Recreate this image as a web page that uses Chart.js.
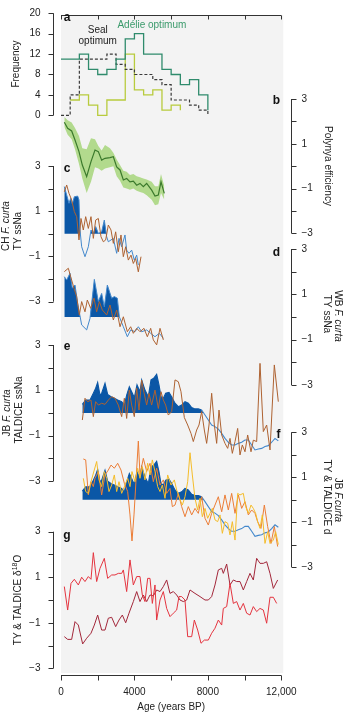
<!DOCTYPE html>
<html><head><meta charset="utf-8">
<script src="https://cdn.jsdelivr.net/npm/chart.js@4.4.1/dist/chart.umd.min.js"></script>
<style>html,body{margin:0;padding:0;background:#fff}#wrap{width:343px;height:714px;position:relative}</style>
</head><body><div id="wrap"><canvas id="c"></canvas></div>
<script>
// ---------- DATA ----------
// (a) frequency histograms, 500-yr bins (bin starts + closing edge)
const ageBins = [0,500,1000,1500,2000,2500,3000,3500,4000,4500,5000,5500,6000,6500,7000,7500,8000];
const adelieFreq = [11,11,12,9,8,9,11,15,16,12,12,9,8,6,7,4,1];
const sealFreq   = [0,4,11,11,11,12,10,9,8,8,7,6,3,3,2,1,0];
const otherBins  = [500,1000,1500,2000,2500,3000,3500,4000,4500,5000,5500,6000,6500];
const otherFreq  = [3,4,2,0,3,3,12,5,4,5,1,2,1];
const freqTicks  = [0,4,8,12,16,20];

// (b) polynya efficiency with uncertainty band
const polyAge = [181,363,581,763,980,1161,1398,1634,1852,2034,2215,2397,2669,2851,3033,3214,3396,3578,3758,3940,4123,4303,4485,4667,4940,5120,5300,5447,5627];
const polyEff = [1.96,1.69,1.57,1.17,0.65,0.05,-0.47,0.2,0.72,0.65,0.27,0.35,0.38,0.42,-0.03,-0.17,-0.62,-0.55,-0.7,-0.67,-0.85,-0.77,-0.92,-0.77,-1.07,-1.34,-1.29,-0.7,-1.22];
const polyHi  = [2.2,2.05,1.95,1.7,1.35,0.8,0.75,1.25,1.2,0.9,0.7,0.95,0.8,0.6,0.3,0.05,-0.2,-0.25,-0.4,-0.35,-0.45,-0.5,-0.55,-0.6,-0.7,-0.9,-0.9,-0.35,-0.9];
const polyLo  = [1.75,1.4,1.2,0.75,0.1,-0.55,-1.2,-0.7,-0.05,-0.1,-0.2,-0.1,-0.05,0.0,-0.45,-0.65,-0.95,-1.0,-1.05,-1.0,-1.1,-1.15,-1.2,-1.3,-1.5,-1.75,-1.7,-1.2,-1.5];

// (c) CH F. curta / TY ssNa
const chAge    = [181,309,436,527,617,726,908,980,1035,1126,1307,1489,1634,1761,1888,2034,2215,2360,2488,2578,2723,2851,3032,3159,3305,3486,3577,3704,3849,3994,4122,4212];
const chFcurta = [2.09,1.72,1.35,1.57,1.32,1.64,1.67,1.5,0.17,-0.57,-1.01,-0.57,0.17,0.02,0.32,0.02,0.09,0.61,-0.13,-0.35,-0.27,-0.2,-0.86,-0.2,-0.57,-0.05,-0.72,-0.86,-0.72,-1.16,-0.94,-1.38];
const tyAgeC   = [181,309,436,581,726,853,980,1089,1216,1344,1489,1634,1761,1888,2034,2179,2306,2433,2578,2723,2851,2978,3123,3268,3395,3523,3668,3813,3940,4067,4212,4358];
const tySsNaC  = [1.86,2.16,1.79,1.5,0.98,0.76,-0.27,0.68,0.17,0.76,0.24,0.76,-0.2,0.61,0.68,-0.13,-0.35,-0.27,0.39,0.17,-0.42,0.09,-0.79,-0.05,-1.01,-0.57,-1.16,-0.94,-1.31,-1.09,-1.68,-1.01];

// (d) WB F. curta / TY ssNa
const wbAge    = [181,309,490,617,763,908,1126,1398,1580,1816,2034,2215,2360,2524,2760,2905,3069,3178,3396,3614,3795,4031,4213,4394,4667,4885,5120,5356,5574];
const wbFcurta = [1.78,1.63,1.93,1.27,1.41,0.6,-0.35,-0.57,-0.06,1.66,0.68,1.04,0.45,1.41,0.83,0.9,0.83,0.01,-0.43,-0.87,-0.57,-0.65,-0.43,-0.65,-0.57,-0.72,-0.87,-0.72,-0.94];
const tyAgeD   = [181,399,526,708,853,999,1126,1307,1434,1616,1798,1943,2088,2251,2488,2669,2851,3033,3214,3396,3614,3795,3940,4122,4303,4521,4703,4885,5029,5211,5393,5574];
const tySsNaD  = [2.0,2.15,1.78,1.27,0.9,0.09,0.68,0.23,0.75,0.38,0.83,0.23,0.68,0.31,0.09,0.53,-0.13,0.31,-0.43,0.01,-0.65,-0.43,-0.72,-0.5,-0.65,-0.5,-0.87,-0.5,-1.01,-1.23,-0.5,-1.01];

// (e,f) JB F. curta
const jbAge    = [1162,1344,1580,1761,1888,1997,2124,2215,2397,2542,2724,2905,3087,3305,3450,3577,3722,3849,3994,4140,4303,4394,4575,4757,4902,5048,5211,5338,5447,5574,5701,5883,6028,6210,6391,6573,6754,6936,7118,7299,7481,7662,7844,8025,8207,8388,8570,8752,8933,9115,9296,9478,9659,9841,10022,10204,10386,10567,10749,10930,11112,11293,11475,11657,11838];
const jbFcurta = [0.38,0.57,0.57,0.87,1.09,1.35,0.79,0.87,1.31,0.82,0.72,0.65,0.57,0.50,0.35,0.79,1.16,0.94,0.68,1.24,0.94,1.46,1.01,0.72,1.46,1.53,1.71,1.24,0.72,0.65,0.87,0.91,0.72,0.43,0.28,0.35,0.50,0.43,0.24,0.18,0.18,0.13,-0.09,-0.31,-0.53,-0.6,-0.71,-0.9,-1.12,-1.29,-1.41,-1.41,-1.34,-1.29,-1.19,-1.19,-1.41,-1.63,-1.59,-1.56,-1.48,-1.44,-1.29,-1.12,-1.23];
// (e) TALDICE ssNa
const taldAgeE = [1162,1307,1453,1634,1761,1888,2034,2215,2397,2578,2760,2941,3123,3305,3450,3577,3722,3849,3994,4122,4249,4394,4521,4666,4793,4938,5120,5302,5447,5574,5701,5846,6028,6210,6391,6536,6718,6900,7081,7208,7390,7517,7662,7807,7934,8062,8207,8352,8479,8606,8752,8933,9079,9206,9333,9478,9623,9750,9877,10022,10168,10350,10476,10658,10840,11021,11203,11385,11620,11838];
const taldSsNa = [-0.31,0.65,0.50,0.57,-0.16,0.50,0.35,0.43,0.38,0.57,0.72,0.65,0.35,-0.16,0.65,-0.24,1.01,0.35,-0.16,1.09,0.13,1.45,0.9,0.35,0.87,0.35,1.01,0.20,0.94,0.57,0.35,-0.09,0.06,1.46,1.38,0.94,-0.20,-0.53,-0.90,-1.26,-0.75,-0.53,0.06,-0.75,-1.34,-0.53,0.87,-0.53,-1.34,0.13,-0.97,-1.34,-1.56,-1.12,-1.78,-1.26,-0.68,-1.85,-1.41,-1.71,-0.97,-1.71,-1.2,-1.26,2.19,-0.82,-0.53,-1.63,2.12,0.50];
// (f) TY d and TALDICE d
const tyDAge = [1216,1344,1489,1634,1761,1852,2034,2215,2397,2578,2724,2905,3087,3268,3450,3632,3758,3867,3976,4213,4303,4485,4666,4848,5029,5211,5393,5574,5756,5937,6065,6210,6391,6573,6754,6936,7118,7299,7481,7662,7844,8025,8207,8388,8570,8752,8933,9115,9296,9478,9659,9841,10022,10204,10386,10567,10712,10894,11076,11257,11439,11620,11802];
const tyD    = [1.81,1.77,0.21,0.80,0.58,0.95,1.25,0.21,1.10,1.32,1.54,1.40,1.62,1.32,0.73,0.36,-0.68,-1.84,-0.68,2.61,1.10,1.84,1.25,1.62,0.80,1.40,0.65,0.88,0.28,0.50,-0.31,-0.24,0.28,-0.31,-0.76,-0.31,-0.68,-0.39,-0.61,0.13,-0.83,-1.13,-0.61,-0.24,0.13,-0.54,0.21,-0.46,0.28,-0.61,0.21,-0.39,-0.09,-0.68,-0.46,-0.61,-0.98,-1.28,-0.24,-1.2,-1.95,-1.2,-2.09];
const taldDAge = [1216,1344,1489,1634,1943,2070,2215,2360,2488,2615,2760,2905,3033,3160,3305,3487,3632,3758,3867,4031,4176,4303,4430,4575,4720,4848,4975,5120,5266,5393,5520,5665,5810,5992,6173,6300,6482,6609,6754,6900,7027,7154,7299,7444,7572,7699,7844,7989,8116,8243,8388,8533,8661,8788,8933,9079,9206,9333,9478,9623,9750,9932,10059,10204,10350,10476,10603,10712,10840,10967,11112,11257,11385,11566,11693,11838];
const taldD    = [0.95,0.36,0.28,0.80,1.70,0.88,0.58,1.25,0.95,0.36,0.65,1.10,0.36,0.80,0.28,0.65,0.95,0.58,1.25,0.80,1.40,0.95,1.47,0.88,1.62,1.10,1.77,1.25,0.58,0.36,0.65,0.06,1.10,0.65,0.88,0.43,0.00,-0.24,0.13,0.80,2.09,1.10,0.06,-0.46,0.06,-0.76,-0.39,-0.83,-0.61,-0.39,-0.90,-0.98,-0.68,-1.50,-0.98,-1.05,-1.57,-0.98,-1.80,0.28,0.21,0.28,-0.31,-0.61,-0.24,-0.39,-0.61,-0.98,-1.28,-0.68,-1.95,-1.43,-1.95,-1.80,-1.43,-2.00];

// (g) δ18O records
const o18AgeA = [181,363,545,726,944,1126,1307,1489,1634,1761,1943,2124,2360,2542,2760,2941,3123,3305,3396,3577,3758,3940,4122,4303,4430,4575,4721,4848,4975,5120,5211,5393,5574,5756,5937,6119,6300,6427,6573,6754,6900,7118,7263,7444,7626,7808,8025,8207,8388,8570,8752,8842,9024,9206,9387,9569,9750,9932,10113,10295,10476,10658,10839,11021,11203,11384,11566,11748];
const o18A    = [0.59,-0.44,0.73,0.91,0.66,1.0,0.81,1.03,0.91,2.08,0.81,1.39,1.83,0.95,1.10,1.10,1.17,1.17,1.32,0.37,1.76,0.66,1.03,1.03,0.22,-0.07,0.95,0.95,-0.15,0.66,-0.88,0.0,0.37,-0.37,-0.73,-0.58,-0.44,0.15,0.15,0.0,-1.61,-1.61,-0.88,-1.32,-1.9,-1.76,-1.76,-1.46,-1.24,-0.88,-1.1,-0.37,-0.29,0.73,-0.15,-0.07,-0.44,-0.15,-0.58,-0.66,-0.29,-0.51,-0.37,-0.44,-1.02,0.12,0.12,-0.15];
const o18AgeB = [181,363,581,763,944,1180,1398,1634,1816,1997,2215,2397,2578,2760,2978,3159,3341,3523,3704,3940,4122,4303,4485,4667,4848,5029,5211,5393,5574,5756,5937,6119,6300,6482,6663,6845,7027,7299,7572,7844,8025,8207,8388,8570,8752,8842,9024,9206,9387,9569,9750,9932,10113,10295,10476,10658,10839,11021,11203,11384,11566,11802];
const o18B    = [-1.61,-1.73,-1.73,-0.95,-1.1,-1.93,-1.68,-1.46,-1.1,-0.66,-1.32,-1.32,-0.8,-0.76,-1.17,-0.88,-0.66,-1.0,-0.58,-0.07,0.37,-0.07,0.22,-0.07,0.22,0.18,0.44,0.37,0.59,0.88,0.29,0.37,0.22,0.0,-0.07,0.0,0.44,0.29,0.15,0.0,0.0,0.15,0.66,1.32,1.39,1.17,1.58,0.66,0.88,0.81,0.81,0.44,0.81,1.17,0.88,1.83,1.61,1.61,1.68,1.17,0.51,0.88];

// tick labels
const anomTickMarks = [-3,-2,-1,0,1,2,3];
const anomTickLabels = [3,1,-1,-3];
const ageTickMarks = [0,2000,4000,6000,8000,10000,12000];
const ageTickLabels = {0:'0',4000:'4000',8000:'8000',12000:'12,000'};

// ---------- LAYOUT (pixel placement of the stacked panels) ----------
const AREA = {left:61, right:281.3, top:15, bottom:675};
const panelPos = {
  ya:{vTop:20,pTop:13.3,vBot:0,pBot:115.3},
  yb:{vTop:3,pTop:99,vBot:-3,pBot:233.3},
  yc:{vTop:3,pTop:166,vBot:-3,pBot:301.7},
  yd:{vTop:3,pTop:249,vBot:-3,pBot:385},
  ye:{vTop:3,pTop:345,vBot:-3,pBot:481},
  yf:{vTop:3,pTop:432.3,vBot:-3,pBot:567},
  yg:{vTop:3,pTop:531.7,vBot:-3,pBot:668.3}
};
function bounds(p){const u=(p.vTop-p.vBot)/(p.pBot-p.pTop);return {min:p.vBot-(AREA.bottom-p.pBot)*u,max:p.vTop+(p.pTop-AREA.top)*u};}
const yScales = {};
Object.keys(panelPos).forEach(id=>{const b=bounds(panelPos[id]);yScales[id]={type:'linear',display:false,min:b.min,max:b.max};});

const FONT = "'Liberation Sans', Arial, Helvetica, sans-serif";
const C = {teal:'#2f8b6c',seal:'#3a3a3a',lime:'#b8cb3d',band:'#b2da8d',poly:'#3b7a2c',fill:'#0b57a6',blue:'#4388cc',brown:'#ae6231',orange:'#ec7d36',yellow:'#f5bd2a',red:'#e5343f',dred:'#a3273a'};
const pts=(xs,ys)=>xs.map((x,i)=>({x,y:ys[i]}));
// positive part of a record (for the filled area), split at its zero crossings
function positivePart(xs, ys){
  const out=[];
  for(let i=0;i<xs.length;i++){
    if(i>0 && (ys[i-1]>0)!==(ys[i]>0)){
      const t=ys[i-1]/(ys[i-1]-ys[i]);
      out.push({x:xs[i-1]+t*(xs[i]-xs[i-1]),y:0});
    }
    out.push({x:xs[i],y:Math.max(0,ys[i])});
  }
  return out;
}
const posSeg = col => ({borderColor: c => (c.p0.parsed.y>0 && c.p1.parsed.y>0) ? C.fill : col});
const areaDs = (xs,ys,axis) => ({data:positivePart(xs,ys),yAxisID:axis,borderWidth:0,borderColor:'rgba(0,0,0,0)',backgroundColor:C.fill,fill:'origin',order:6});

const datasets = [
  {data:pts(ageBins,adelieFreq),yAxisID:'ya',borderColor:C.teal,borderWidth:1.3,stepped:'before',order:1},
  {data:pts(ageBins,sealFreq),yAxisID:'ya',borderColor:C.seal,borderWidth:1.2,borderDash:[3,2],stepped:'before',order:1},
  {data:pts(otherBins,otherFreq),yAxisID:'ya',borderColor:C.lime,borderWidth:1.3,stepped:'before',order:2},
  {data:pts(polyAge,polyHi),yAxisID:'yb',borderWidth:0,borderColor:'rgba(0,0,0,0)',backgroundColor:C.band,fill:'+1',order:9},
  {data:pts(polyAge,polyLo),yAxisID:'yb',borderWidth:0,borderColor:'rgba(0,0,0,0)',fill:false,order:9},
  {data:pts(polyAge,polyEff),yAxisID:'yb',borderColor:C.poly,borderWidth:1.2,order:1},
  areaDs(chAge,chFcurta,'yc'),
  {data:pts(chAge,chFcurta),yAxisID:'yc',borderColor:C.blue,borderWidth:1,order:4},
  {data:pts(tyAgeC,tySsNaC),yAxisID:'yc',borderColor:C.brown,borderWidth:1,order:3},
  areaDs(wbAge,wbFcurta,'yd'),
  {data:pts(wbAge,wbFcurta),yAxisID:'yd',borderColor:C.blue,borderWidth:1,order:4},
  {data:pts(tyAgeD,tySsNaD),yAxisID:'yd',borderColor:C.brown,borderWidth:1,order:3},
  areaDs(jbAge,jbFcurta,'ye'),
  {data:pts(jbAge,jbFcurta),yAxisID:'ye',borderColor:C.blue,borderWidth:1.1,segment:posSeg(C.blue),order:4},
  {data:pts(taldAgeE,taldSsNa),yAxisID:'ye',borderColor:C.brown,borderWidth:1,order:3},
  areaDs(jbAge,jbFcurta,'yf'),
  {data:pts(jbAge,jbFcurta),yAxisID:'yf',borderColor:C.blue,borderWidth:1.1,segment:posSeg(C.blue),order:4},
  {data:pts(tyDAge,tyD),yAxisID:'yf',borderColor:C.orange,borderWidth:1,order:3},
  {data:pts(taldDAge,taldD),yAxisID:'yf',borderColor:C.yellow,borderWidth:1,order:2},
  {data:pts(o18AgeB,o18B),yAxisID:'yg',borderColor:C.dred,borderWidth:1,order:3},
  {data:pts(o18AgeA,o18A),yAxisID:'yg',borderColor:C.red,borderWidth:1,order:2}
];

const fmt = v => v<0 ? '\u2212'+Math.abs(v) : String(v);

function richText(ctx, parts, cx, cy, angle, size){
  ctx.save();
  ctx.translate(cx, cy); ctx.rotate(angle);
  ctx.textBaseline='middle'; ctx.textAlign='left';
  const fontOf = p => (p.i?'italic ':'') + (p.sup? Math.round(size*0.7): size) + 'px ' + FONT;
  let w=0; parts.forEach(p=>{ctx.font=fontOf(p); w+=ctx.measureText(p.t).width;});
  let x=-w/2;
  parts.forEach(p=>{ctx.font=fontOf(p); ctx.fillText(p.t, x, p.sup?-3:0); x+=ctx.measureText(p.t).width;});
  ctx.restore();
}

const panelPlugin = {
  id:'panelDecor',
  beforeDraw(chart){
    const {ctx, chartArea:a} = chart;
    ctx.save(); ctx.fillStyle='#f3f3f3';
    ctx.fillRect(a.left, a.top, a.right-a.left+2, a.bottom-a.top-2);
    ctx.restore();
  },
  afterDraw(chart){
    const {ctx, chartArea:a, scales:s} = chart;
    ctx.save();
    ctx.strokeStyle='#333'; ctx.fillStyle='#222'; ctx.lineWidth=1;
    ctx.font='10px '+FONT;
    const yAxis = (id, x, side, marks, labels) => {
      const sc = s[id];
      const yTop = sc.getPixelForValue(Math.max(...marks)), yBot = sc.getPixelForValue(Math.min(...marks));
      ctx.beginPath(); ctx.moveTo(x, yTop); ctx.lineTo(x, yBot);
      marks.forEach(v=>{const y=Math.round(sc.getPixelForValue(v))+0.5; ctx.moveTo(x,y); ctx.lineTo(x+side*5,y);});
      ctx.stroke();
      ctx.textBaseline='middle'; ctx.textAlign= side<0?'right':'left';
      labels.forEach(v=>{ctx.fillText(fmt(v), x+side*(side<0?13:10), sc.getPixelForValue(v));});
    };
    yAxis('ya',53.5,-1,freqTicks,freqTicks);
    yAxis('yc',53.5,-1,anomTickMarks,anomTickLabels);
    yAxis('ye',53.5,-1,anomTickMarks,anomTickLabels);
    yAxis('yg',53.5,-1,anomTickMarks,anomTickLabels);
    yAxis('yb',291.5,1,anomTickMarks,anomTickLabels);
    yAxis('yd',291.5,1,anomTickMarks,anomTickLabels);
    yAxis('yf',291.5,1,anomTickMarks,anomTickLabels);
    const xs = s.x;
    const xb = 675.5, xt = 15.5;
    ctx.beginPath();
    ctx.moveTo(xs.getPixelForValue(0), xb); ctx.lineTo(xs.getPixelForValue(12000), xb);
    ctx.moveTo(xs.getPixelForValue(0), xt); ctx.lineTo(xs.getPixelForValue(12000), xt);
    ageTickMarks.forEach(v=>{const x=Math.round(xs.getPixelForValue(v))+0.5; ctx.moveTo(x,xb); ctx.lineTo(x,xb+5); ctx.moveTo(x,xt); ctx.lineTo(x,xt+4);});
    ctx.stroke();
    ctx.textAlign='center'; ctx.textBaseline='middle';
    Object.keys(ageTickLabels).forEach(k=>{ctx.fillText(ageTickLabels[k], xs.getPixelForValue(+k), 692);});
    ctx.fillText('Age (years BP)', (a.left+a.right)/2, 707);
    const L=-Math.PI/2, R=Math.PI/2;
    richText(ctx,[{t:'Frequency'}],16,64,L,10);
    richText(ctx,[{t:'Polynya efficiency'}],328,166,R,10);
    richText(ctx,[{t:'CH '},{t:'F. curta',i:true}],6,226,L,10);
    richText(ctx,[{t:'TY ssNa'}],18,231,L,10);
    richText(ctx,[{t:'WB '},{t:'F. curta',i:true}],338,316,R,10);
    richText(ctx,[{t:'TY ssNa'}],327,314,R,10);
    richText(ctx,[{t:'JB '},{t:'F. curta',i:true}],7,413,L,10);
    richText(ctx,[{t:'TALDICE ssNa'}],19,410,L,10);
    richText(ctx,[{t:'JB '},{t:'F.curta',i:true}],338,500,R,10);
    richText(ctx,[{t:'TY & TALDICE d'}],327,497,R,10);
    richText(ctx,[{t:'TY & TALDICE \u03b4'},{t:'18',sup:true},{t:'O'}],18,600,L,10);
    ctx.font='bold 12px '+FONT; ctx.fillStyle='#111';
    [['a',67,18],['b',276.5,101],['c',67,169],['d',276.5,253],['e',67,347],['f',278.5,435],['g',67,536]].forEach(([t,x,y])=>ctx.fillText(t,x,y));
    ctx.font='10px '+FONT; ctx.fillStyle='#222';
    ctx.fillText('Seal', xs.getPixelForValue(2000), s.ya.getPixelForValue(16.7));
    ctx.fillText('optimum', xs.getPixelForValue(2000), s.ya.getPixelForValue(14.6));
    ctx.fillStyle='#3a9a6b';
    ctx.fillText('Ad\u00e9lie optimum', xs.getPixelForValue(4950), s.ya.getPixelForValue(17.7));
    ctx.restore();
  }
};

new Chart(document.getElementById('c'), {
  type:'line',
  data:{datasets},
  options:{
    responsive:true, maintainAspectRatio:false, animation:false, devicePixelRatio:1, events:[],
    layout:{padding:{left:AREA.left, right:343-AREA.right, top:AREA.top, bottom:714-AREA.bottom}},
    plugins:{legend:{display:false}, tooltip:{enabled:false}},
    elements:{point:{radius:0}, line:{tension:0, borderWidth:1}},
    scales:Object.assign({x:{type:'linear',display:false,min:0,max:12000}}, yScales)
  },
  plugins:[panelPlugin]
});
</script></body></html>
